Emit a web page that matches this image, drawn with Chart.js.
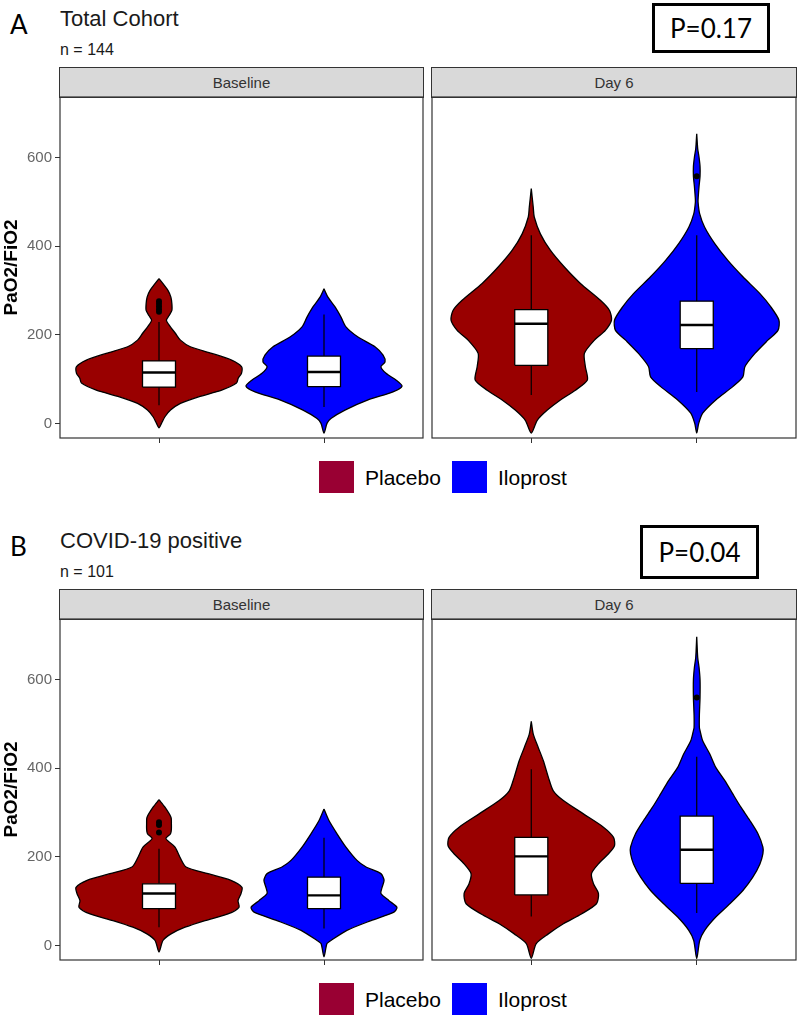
<!DOCTYPE html>
<html>
<head>
<meta charset="utf-8">
<script src="https://cdn.jsdelivr.net/npm/chart.js@4.4.1/dist/chart.umd.min.js"></script>
<style>
body { margin: 0; background: #fff; font-family: "Liberation Sans", Arial, sans-serif; }
#page { position: relative; width: 797px; height: 1016px; overflow: hidden; }
.abs { position: absolute; white-space: nowrap; }
.letter { font-family: Lato, "Liberation Sans", sans-serif; font-size: 26px; line-height: 26px; color: #000; }
.title { font-size: 22px; line-height: 22px; color: #1a1a1a; }
.sub { font-size: 16px; line-height: 16px; color: #1a1a1a; }
.pbox { border: 3px solid #000; box-sizing: border-box; display: flex; align-items: center; justify-content: center;
        font-family: Lato, "Liberation Sans", sans-serif; font-size: 26px; color: #000; }
.strip { background: #d9d9d9; border: 1px solid #333; box-sizing: border-box; text-align: center;
         font-size: 15px; line-height: 29px; color: #333; }
.swatch { width: 35px; height: 32px; }
.legtext { font-size: 21px; line-height: 21px; color: #000; }
.holder { position: absolute; }
</style>
</head>
<body>
<div id="page"></div>
<script>
const GROUPS = ["Placebo", "Iloprost"];
const FACETS = ["Baseline", "Day 6"];
const X_POS = [1, 2];
const Y_TICKS = [0, 200, 400, 600];
const Y_MIN = -33, Y_MAX = 737;

// violin outlines: [PaO2/FiO2, half width in group units], top to bottom
const A_BASE_PLACEBO = [[327,0],[300,.055],[285,.072],[270,.078],[255,.078],[243,.06],[233,.045],[220,.065],[203,.1],[188,.13],[173,.19],[158,.32],[143,.44],[128,.5],[113,.5],[102,.48],[91,.47],[75,.38],[60,.24],[45,.13],[30,.07],[15,.036],[0,.015],[-10,0]];
const A_BASE_ILOPROST = [[304,0],[285,.024],[263,.067],[240,.103],[218,.133],[195,.206],[173,.309],[154,.358],[139,.37],[128,.345],[113,.376],[98,.436],[84,.473],[71,.418],[53,.267],[30,.127],[11,.042],[0,.018],[-22,0]];
const A_DAY6_PLACEBO = [[530,0],[488,.012],[466,.018],[428,.055],[391,.115],[353,.2],[316,.297],[278,.418],[255,.473],[233,.485],[210,.448],[188,.382],[158,.321],[128,.327],[98,.339],[75,.267],[53,.176],[30,.097],[7,.036],[-22,0]];
const A_DAY6_ILOPROST = [[654,0],[620,.006],[601,.014],[580,.02],[558,.02],[535,.014],[511,.009],[500,.008],[473,.018],[443,.048],[406,.109],[368,.188],[331,.279],[293,.382],[263,.448],[233,.497],[210,.491],[188,.43],[158,.352],[128,.291],[105,.279],[83,.218],[53,.115],[23,.036],[0,.012],[-22,0]];
const B_BASE_PLACEBO = [[329,0],[312,.036],[289,.073],[275,.075],[262,.075],[252,.07],[241,.042],[222,.097],[199,.127],[177,.164],[162,.297],[147,.436],[131,.503],[117,.497],[101,.479],[86,.485],[71,.418],[56,.279],[41,.158],[26,.073],[11,.024],[-15,0]];
const B_BASE_ILOPROST = [[308,0],[282,.03],[252,.079],[222,.133],[192,.2],[177,.255],[162,.345],[147,.364],[131,.352],[117,.345],[101,.394],[86,.442],[75,.424],[56,.285],[34,.139],[11,.042],[4,.018],[-26,0]];
const B_DAY6_PLACEBO = [[506,0],[477,.012],[447,.042],[417,.073],[380,.103],[349,.133],[327,.194],[297,.315],[267,.436],[244,.497],[225,.503],[207,.467],[184,.406],[162,.364],[139,.376],[117,.406],[94,.394],[71,.303],[49,.194],[26,.103],[4,.03],[-29,0]];
const B_DAY6_ILOPROST = [[697,0],[650,.006],[628,.014],[600,.02],[560,.02],[520,.016],[492,.016],[485,.02],[462,.036],[432,.079],[402,.115],[372,.17],[342,.218],[312,.267],[282,.321],[252,.37],[222,.4],[207,.4],[184,.382],[154,.339],[124,.279],[94,.2],[64,.115],[34,.048],[11,.018],[-30,0]];

// box stats: [lower whisker, Q1, median, Q3, upper whisker]
const A_BASE_PLACEBO_BOX = [41, 82, 115, 141, 229];
const A_BASE_ILOPROST_BOX = [37, 83, 116, 152, 246];
const A_DAY6_PLACEBO_BOX = [64, 131, 225, 257, 425];
const A_DAY6_ILOPROST_BOX = [71, 169, 222, 276, 425];
const B_BASE_PLACEBO_BOX = [41, 83, 117, 139, 218];
const B_BASE_ILOPROST_BOX = [38, 83, 113, 154, 243];
const B_DAY6_PLACEBO_BOX = [65, 114, 201, 244, 398];
const B_DAY6_ILOPROST_BOX = [73, 140, 216, 292, 426];

// outliers
const A_BASE_PLACEBO_OUT = [252, 258, 264, 270, 276];
const A_DAY6_ILOPROST_OUT = [558];
const B_BASE_PLACEBO_OUT = [255, 272, 278];
const B_DAY6_ILOPROST_OUT = [560];

const VIOLIN_COLORS = ["#990000", "#0000ff"];
const LEGEND_COLORS = ["#990033", "#0000ff"];
const BOX_HW = 0.1;

const panels = [
    { letter: "A", title: "Total Cohort", n: "n = 144", p: "P=0.17", dy: 0,
      pBox: { left: 652, top: 3, w: 118, h: 50 },
      facets: [
          [{ v: A_BASE_PLACEBO, box: A_BASE_PLACEBO_BOX, out: A_BASE_PLACEBO_OUT },
           { v: A_BASE_ILOPROST, box: A_BASE_ILOPROST_BOX, out: [] }],
          [{ v: A_DAY6_PLACEBO, box: A_DAY6_PLACEBO_BOX, out: [] },
           { v: A_DAY6_ILOPROST, box: A_DAY6_ILOPROST_BOX, out: A_DAY6_ILOPROST_OUT }]
      ] },
    { letter: "B", title: "COVID-19 positive", n: "n = 101", p: "P=0.04", dy: 522,
      pBox: { left: 640, top: 525, w: 119, h: 54 },
      facets: [
          [{ v: B_BASE_PLACEBO, box: B_BASE_PLACEBO_BOX, out: B_BASE_PLACEBO_OUT },
           { v: B_BASE_ILOPROST, box: B_BASE_ILOPROST_BOX, out: [] }],
          [{ v: B_DAY6_PLACEBO, box: B_DAY6_PLACEBO_BOX, out: [] },
           { v: B_DAY6_ILOPROST, box: B_DAY6_ILOPROST_BOX, out: B_DAY6_ILOPROST_OUT }]
      ] }
];

const page = document.getElementById("page");

function addDiv(cls, style, text) {
    const d = document.createElement("div");
    d.className = cls;
    Object.assign(d.style, style);
    if (text !== undefined) d.textContent = text;
    page.appendChild(d);
    return d;
}

// draws the full panel border round the plot area
const frame = {
    id: "frame",
    afterDraw(chart) {
        const { ctx, chartArea: a } = chart;
        ctx.save();
        ctx.strokeStyle = "#333";
        ctx.lineWidth = 1.2;
        ctx.strokeRect(a.left, a.top, a.right - a.left, a.bottom - a.top);
        ctx.restore();
    }
};

function noPad(s) {
    s.paddingTop = 0; s.paddingBottom = 0; s.paddingLeft = 0; s.paddingRight = 0;
}

function facetDatasets(groups) {
    const sets = [];
    groups.forEach((g, i) => {
        const c = X_POS[i];
        const left = g.v.map(([y, w]) => ({ x: c - w, y }));
        const right = g.v.slice(0, -1).reverse().map(([y, w]) => ({ x: c + w, y }));
        sets.push({ data: left.concat(right), borderColor: "#000", borderWidth: 1.3,
            backgroundColor: VIOLIN_COLORS[i], fill: "shape", pointRadius: 0, tension: 0.25, order: 3 });
        const [lo, q1, med, q3, hi] = g.box;
        sets.push({ data: [{ x: c, y: lo }, { x: c, y: hi }], borderColor: "#000", borderWidth: 1.2,
            pointRadius: 0, fill: false, order: 2 });
        sets.push({ data: [{ x: c - BOX_HW, y: q1 }, { x: c + BOX_HW, y: q1 }, { x: c + BOX_HW, y: q3 },
                           { x: c - BOX_HW, y: q3 }, { x: c - BOX_HW, y: q1 }],
            borderColor: "#000", borderWidth: 1.3, backgroundColor: "#fff", fill: "shape", pointRadius: 0, order: 1 });
        sets.push({ data: [{ x: c - BOX_HW, y: med }, { x: c + BOX_HW, y: med }], borderColor: "#000",
            borderWidth: 2.4, pointRadius: 0, fill: false, order: 0 });
        sets.push({ data: g.out.map(y => ({ x: c, y })), showLine: false, pointRadius: 3,
            pointBackgroundColor: "#000", pointBorderWidth: 0, fill: false, order: 0 });
    });
    return sets;
}

function makeChart(holder, groups, showY) {
    const canvas = document.createElement("canvas");
    holder.appendChild(canvas);
    return new Chart(canvas.getContext("2d"), {
        type: "line",
        data: { datasets: facetDatasets(groups) },
        plugins: [frame],
        options: {
            responsive: true,
            maintainAspectRatio: false,
            animation: false,
            events: [],
            layout: {
                autoPadding: false,
                padding: showY ? { top: 1, right: 1, left: 0, bottom: 0 } : { top: 1, right: 1, left: 1, bottom: 0 }
            },
            plugins: { legend: { display: false }, tooltip: { enabled: false } },
            scales: {
                x: {
                    type: "linear", min: 0.4, max: 2.6,
                    afterBuildTicks: s => { s.ticks = X_POS.map(v => ({ value: v })); },
                    afterFit: s => { s.height = 10; noPad(s); },
                    ticks: { callback: () => "" },
                    grid: { drawOnChartArea: false, tickLength: 5, color: "#333" },
                    border: { display: false }
                },
                y: {
                    display: showY, min: Y_MIN, max: Y_MAX,
                    afterBuildTicks: s => { s.ticks = Y_TICKS.map(v => ({ value: v })); },
                    afterFit: s => { s.width = showY ? 60 : 0; noPad(s); },
                    ticks: { color: "#666", font: { size: 15, family: "'Liberation Sans', Arial" }, padding: 3 },
                    grid: { drawOnChartArea: false, tickLength: 5, color: "#333" },
                    border: { display: false },
                    title: { display: true, text: "PaO2/FiO2", color: "#000", padding: 0,
                             font: { size: 19, weight: "bold", family: "'Liberation Sans', Arial" } }
                }
            }
        }
    });
}

panels.forEach(p => {
    const dy = p.dy;
    addDiv("abs letter", { left: "10px", top: (11 + dy) + "px" }, p.letter);
    addDiv("abs title", { left: "60px", top: (8 + dy) + "px" }, p.title);
    addDiv("abs sub", { left: "60px", top: (42 + dy) + "px" }, p.n);
    addDiv("abs pbox", { left: p.pBox.left + "px", top: p.pBox.top + "px", width: p.pBox.w + "px", height: p.pBox.h + "px" }, p.p);

    const stripPos = [{ left: 59, w: 365 }, { left: 431, w: 366 }];
    const holderPos = [{ left: 0, w: 424 }, { left: 431, w: 366 }];
    FACETS.forEach((f, k) => {
        addDiv("abs strip", { left: stripPos[k].left + "px", top: (67 + dy) + "px", width: stripPos[k].w + "px", height: "31px" }, f);
        const h = addDiv("holder", { left: holderPos[k].left + "px", top: (96 + dy) + "px", width: holderPos[k].w + "px", height: "352px" });
        makeChart(h, p.facets[k], k === 0);
    });

    const swLeft = [319, 452], txLeft = [365, 498];
    GROUPS.forEach((g, i) => {
        addDiv("abs swatch", { left: swLeft[i] + "px", top: (461 + dy) + "px", background: LEGEND_COLORS[i] });
        addDiv("abs legtext", { left: txLeft[i] + "px", top: (467 + dy) + "px" }, g);
    });
});
</script>
</body>
</html>
